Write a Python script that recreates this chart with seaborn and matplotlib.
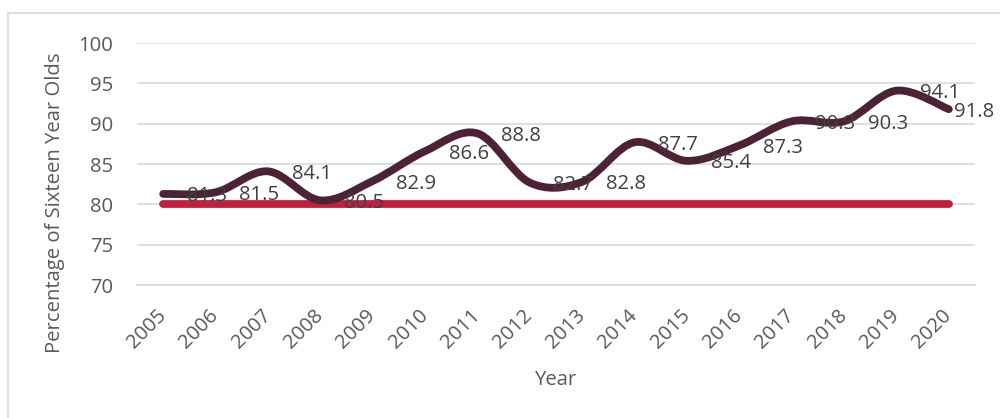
import numpy as np
import pandas as pd
import seaborn as sns
import matplotlib.pyplot as plt
from matplotlib.path import Path
from matplotlib.patches import PathPatch, Rectangle

years = [2005, 2006, 2007, 2008, 2009, 2010, 2011, 2012,
         2013, 2014, 2015, 2016, 2017, 2018, 2019, 2020]
pct = [81.3, 81.5, 84.1, 80.5, 82.9, 86.6, 88.8, 82.7,
       82.8, 87.7, 85.4, 87.3, 90.3, 90.3, 94.1, 91.8]
target_value = 80
target = [target_value] * len(years)

y_ticks = [70, 75, 80, 85, 90, 95, 100]

sns.set_style("white")
plt.rcParams['font.family'] = ['Open Sans', 'DejaVu Sans']

df = pd.DataFrame({"pos": np.arange(len(years)), "year": years,
                   "pct": pct, "target": target})

fig = plt.figure(figsize=(10, 4.18), dpi=100)
ax = fig.add_axes([0.137, 0.318, 0.838, 0.579])

# grey chart border like the excel frame
fig.patches.append(Rectangle((0.008, -0.02), 1.05, 0.99, transform=fig.transFigure,
                             fill=False, edgecolor="#D9D9D9", lw=1.2))

# target line
sns.lineplot(data=df, x="pos", y="target", ax=ax, color="#C21E3E",
             linewidth=5.6, solid_capstyle="round", zorder=3)

# smoothed series line (excel style bezier smoothing)
pts = df[["pos", "pct"]].to_numpy(dtype=float)
ext = np.vstack([pts[0], pts, pts[-1]])
verts = [tuple(pts[0])]
codes = [Path.MOVETO]
for i in range(1, len(ext) - 2):
    p0, p1, p2, p3 = ext[i - 1], ext[i], ext[i + 1], ext[i + 2]
    c1 = p1 + (p2 - p0) / 6.0
    c2 = p2 - (p3 - p1) / 6.0
    verts += [tuple(c1), tuple(c2), tuple(p2)]
    codes += [Path.CURVE4] * 3
ax.add_patch(PathPatch(Path(verts, codes), fill=False, edgecolor="#4B2236",
                       lw=5.6, capstyle="round", joinstyle="round", zorder=4))

fs = 14.6
for i, v in enumerate(pct):
    off = 17 if i < len(pct) - 1 else 4
    ax.annotate(f"{v}", (i, v), xytext=(off, 0), textcoords="offset points",
                ha="left", va="center_baseline", fontsize=fs, color="#404040", zorder=5)

ax.set_xlim(-0.5, len(years) - 0.5)
ax.set_ylim(70, 100)
ax.set_yticks(y_ticks)
ax.set_xticks(np.arange(len(years)))
ax.set_xticklabels([str(y) for y in years], rotation=45, ha="right",
                   rotation_mode="anchor", va="center")
ax.set_xticks(np.arange(len(years) + 1) - 0.5, minor=True)
ax.tick_params(axis="x", which="major", length=0, pad=20, labelsize=fs, labelcolor="#595959")
ax.tick_params(axis="x", which="minor", length=4.5, width=1.2, color="#D9D9D9", direction="out")
ax.tick_params(axis="y", length=0, pad=17, labelsize=fs, labelcolor="#595959")

ax.yaxis.grid(True, color="#D9D9D9", lw=1.2)
ax.set_axisbelow(True)
for s in ["top", "right", "left"]:
    ax.spines[s].set_visible(False)
ax.spines["bottom"].set_color("#D9D9D9")
ax.spines["bottom"].set_linewidth(1.2)
ax.set_xlabel("")
ax.set_ylabel("")

fig.text(0.556, 0.091, "Year", ha="center", va="center", fontsize=fs, color="#595959")
fig.text(0.055, 0.514, "Percentage of Sixteen Year Olds", ha="center", va="center",
         rotation=90, fontsize=fs, color="#595959")

fig.savefig("out.png", dpi=100)
